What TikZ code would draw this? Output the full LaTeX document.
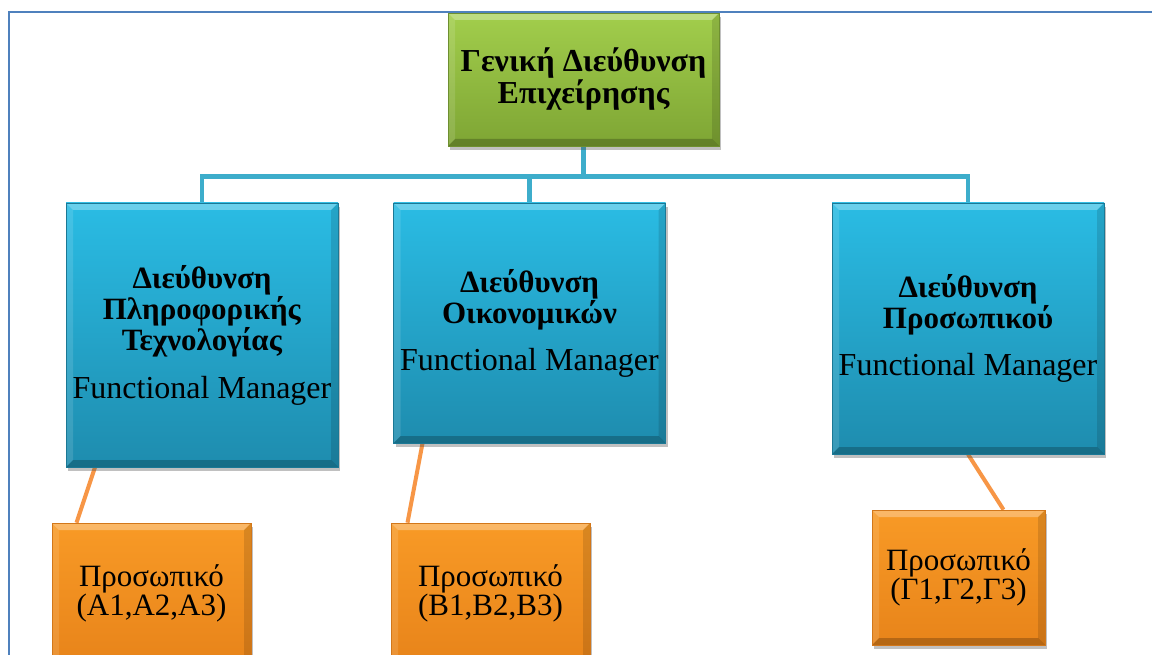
\documentclass[tikz,border=0pt]{standalone}
\usepackage{fontspec}
\setmainfont{Liberation Serif}
\usetikzlibrary{shadows,calc}

\pgfdeclarelayer{paper}
\pgfdeclarelayer{wires}
\pgfsetlayers{paper,wires,main}

\definecolor{framecol}{HTML}{4F81BD}
\definecolor{buscol}{HTML}{3DADCB}
\definecolor{linkcol}{HTML}{F79646}
\definecolor{greentop}{HTML}{A2CE4C}
\definecolor{greenbot}{HTML}{7EA534}
\definecolor{greenedge}{HTML}{6E8F30}
\definecolor{bluetop}{HTML}{2ABCE4}
\definecolor{bluebot}{HTML}{1E8CAE}
\definecolor{blueedge}{HTML}{1B7895}
\definecolor{orangetop}{HTML}{F89A26}
\definecolor{orangebot}{HTML}{E8841A}
\definecolor{orangeedge}{HTML}{D2771A}

\tikzset{
  bevel/.style={path picture={
    \fill[white,opacity=0.30]
      (path picture bounding box.north west) -- (path picture bounding box.north east)
      -- ([xshift=-7pt,yshift=-7pt]path picture bounding box.north east)
      -- ([xshift=7pt,yshift=-7pt]path picture bounding box.north west) -- cycle;
    \fill[white,opacity=0.12]
      (path picture bounding box.north west) -- ([xshift=7pt,yshift=-7pt]path picture bounding box.north west)
      -- ([xshift=7pt,yshift=7pt]path picture bounding box.south west)
      -- (path picture bounding box.south west) -- cycle;
    \fill[black,opacity=0.12]
      (path picture bounding box.north east) -- ([xshift=-7pt,yshift=-7pt]path picture bounding box.north east)
      -- ([xshift=-7pt,yshift=7pt]path picture bounding box.south east)
      -- (path picture bounding box.south east) -- cycle;
    \fill[black,opacity=0.22]
      (path picture bounding box.south west) -- ([xshift=7pt,yshift=7pt]path picture bounding box.south west)
      -- ([xshift=-7pt,yshift=7pt]path picture bounding box.south east)
      -- (path picture bounding box.south east) -- cycle;
  }},
  box/.style={rectangle, inner sep=0pt, align=center, text=black, line width=0.6pt, bevel,
    drop shadow={shadow xshift=2pt, shadow yshift=-4pt, opacity=0.35, fill=black!70}},
  topbox/.style={box, draw=greenedge, top color=greentop, bottom color=greenbot,
    minimum width=271pt, minimum height=133pt,
    font=\bfseries\fontsize{32}{32}\selectfont},
  deptbox/.style={box, draw=blueedge, top color=bluetop, bottom color=bluebot,
    minimum width=272pt, font=\fontsize{31}{31}\selectfont},
  staffbox/.style={box, draw=orangeedge, top color=orangetop, bottom color=orangebot,
    minimum width=199pt, minimum height=140pt, font=\fontsize{31}{29}\selectfont},
  bus/.style={draw=buscol, line width=4.5pt},
  link/.style={draw=linkcol, line width=4pt}
}

\begin{document}
\begin{tikzpicture}[x=1pt,y=-1pt]
  \useasboundingbox (0,0) rectangle (1152,655);
  \clip (0,0) rectangle (1152,655);
  \begin{pgfonlayer}{paper}
    \fill[white] (0,0) rectangle (1152,655);
  \end{pgfonlayer}

  % outer frame corners
  \coordinate (fbl) at (9,700);
  \coordinate (ftl) at (9,12);
  \coordinate (ftr) at (1200,12);

  % management
  \node[topbox] (g) at (583.5,79.5) {Γενική Διεύθυνση\\Επιχείρησης};

  % departments
  \node[deptbox, minimum height=264pt] (d1) at (202,335)
    {\textbf{Διεύθυνση}\\\textbf{Πληροφορικής}\\\textbf{Τεχνολογίας}\\[17pt]{\fontsize{32}{32}\selectfont Functional Manager}};
  \node[deptbox, minimum height=240pt] (d2) at (529.5,323)
    {\textbf{Διεύθυνση}\\\textbf{Οικονομικών}\\[16pt]{\fontsize{32}{32}\selectfont Functional Manager}};
  \node[deptbox, minimum height=251pt] (d3) at (968,328.5)
    {\textbf{Διεύθυνση}\\\textbf{Προσωπικού}\\[16pt]{\fontsize{32}{32}\selectfont Functional Manager}};

  % staff
  \node[staffbox] (p1) at (151.5,593) {Προσωπικό\\(A1,A2,A3)};
  \node[staffbox] (p2) at (490.5,593) {Προσωπικό\\(B1,B2,B3)};
  \node[staffbox, minimum width=173pt, minimum height=135pt] (p3) at (958.5,577.5) {Προσωπικό\\(Γ1,Γ2,Γ3)};

  % connectors, kept beneath the boxes
  \begin{pgfonlayer}{wires}
    \draw[bus] (g.south) -- ++(0,30) coordinate (j);
    \draw[bus] (d1.north) |- (j) -| (d3.north);
    \draw[bus] (d2.north) -- (d2.north |- j);

    \draw[link] ([xshift=-107pt]d1.south) -- ([xshift=-75pt]p1.north);
    \draw[link] ([xshift=-107pt]d2.south) -- ([xshift=-83pt]p2.north);
    \draw[link] (d3.south) -- ([xshift=45pt]p3.north);
  \end{pgfonlayer}

  \draw[framecol, line width=2.5pt] (fbl) -- (ftl) -- (ftr);
\end{tikzpicture}
\end{document}
